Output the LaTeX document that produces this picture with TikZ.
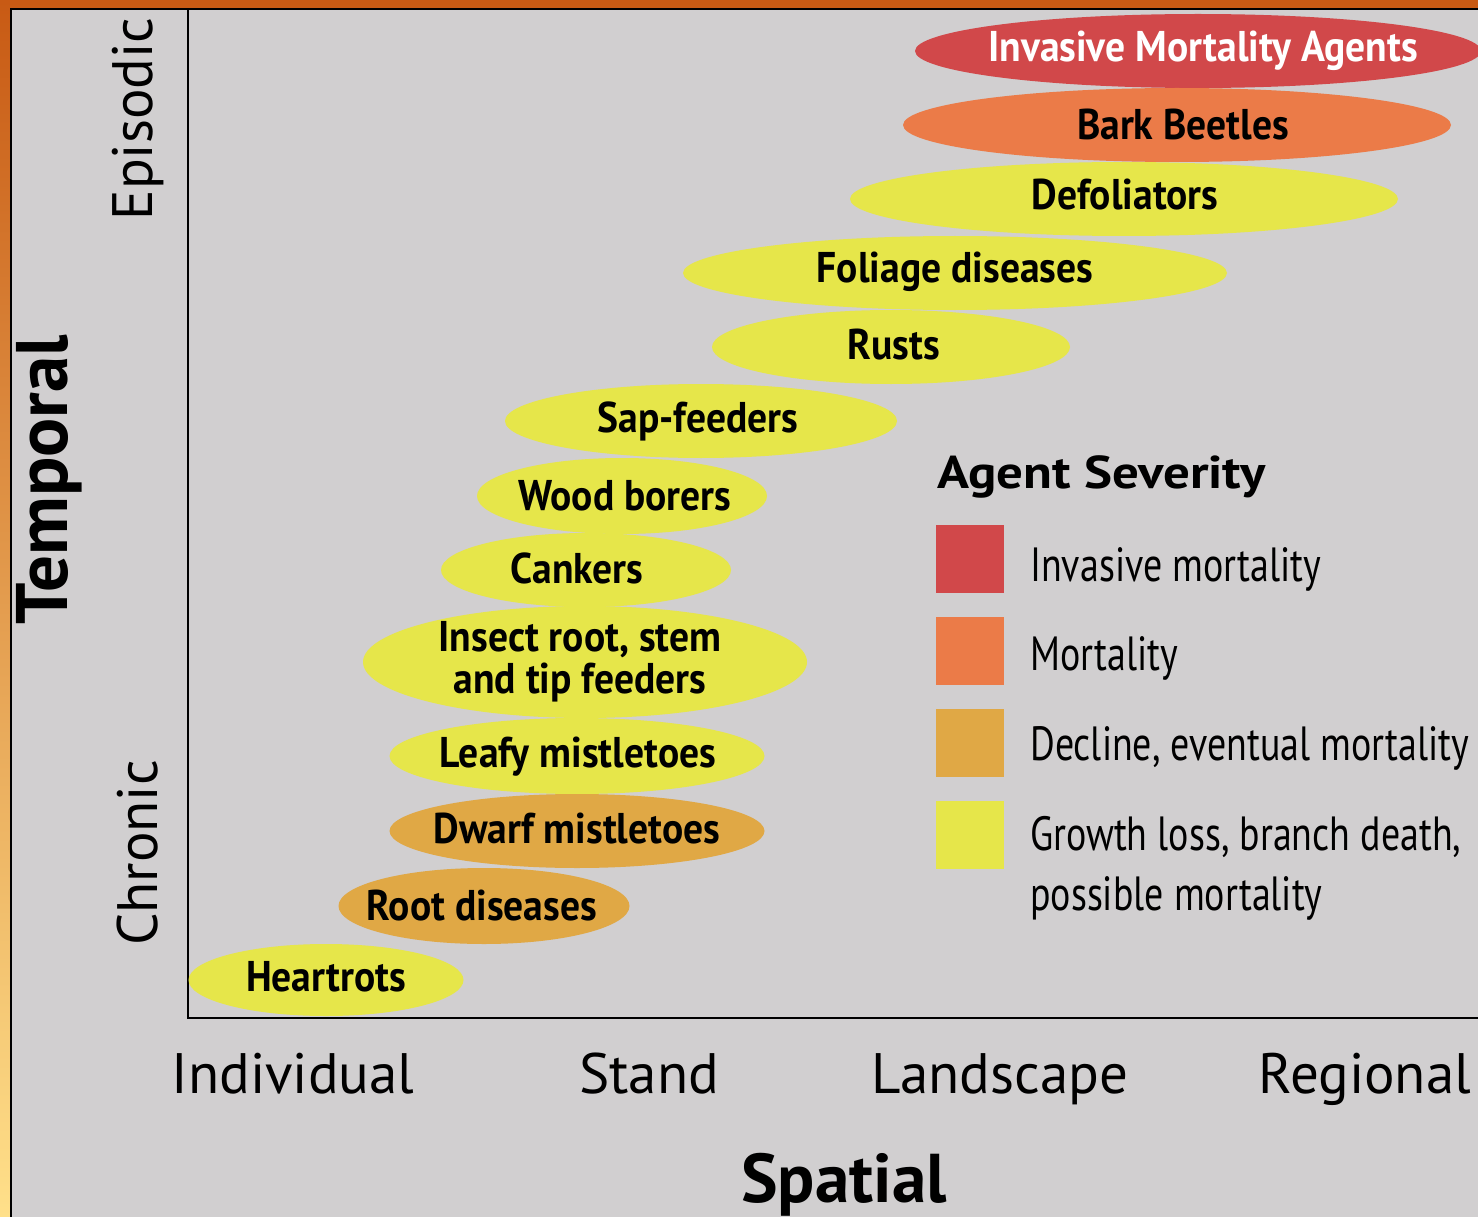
\documentclass[tikz,border=0pt]{standalone}
\usepackage{fontspec}
\setmainfont{PT Sans}
\newfontfamily\cond[FakeStretch=0.92]{PT Sans}
\newfontfamily\condl[FakeStretch=0.79]{PT Sans}
\newfontfamily\wideb[FakeStretch=1.15]{PT Sans}
\usetikzlibrary{shapes.geometric}
\definecolor{panel}{HTML}{D1CFD0}
\definecolor{cred}{HTML}{D1484A}
\definecolor{corg}{HTML}{EB7B48}
\definecolor{cgld}{HTML}{E0A845}
\definecolor{cylw}{HTML}{E6E64A}
\definecolor{edgetop}{HTML}{C85A14}
\definecolor{edgebot}{HTML}{FFE08A}
\tikzset{
  ell/.style={ellipse, inner sep=0pt, draw=none},
  lbl/.style={inner sep=0pt, font=\cond\bfseries\fontsize{43}{44}\selectfont, align=center},
  leg/.style={inner sep=0pt, anchor=base west, font=\condl\fontsize{48}{60}\selectfont, align=left},
  axl/.style={inner sep=0pt, font=\fontsize{57}{60}\selectfont},
  axt/.style={inner sep=0pt, font=\bfseries\fontsize{69}{70}\selectfont},
  sq/.style={minimum width=68pt, minimum height=68pt, inner sep=0pt, draw=none},
}
\begin{document}
\begin{tikzpicture}[x=1pt,y=-1pt]
\useasboundingbox (0,0) rectangle (1478,1217);
\shade[top color=edgetop, bottom color=edgebot] (0,0) rectangle (1478,1217);
\fill[panel] (11,9) rectangle (1478,1217);
\draw[line width=2pt] (11,1217) -- (11,9) -- (1478,9);
\coordinate (ytop) at (188,9);
\coordinate (orig) at (188,1018);
\coordinate (xend) at (1478,1018);
\draw[line width=2pt] (ytop) -- (orig) -- (xend);
% ellipses
\node[ell, fill=cred, minimum width=566pt, minimum height=74pt] (e1) at (1198,51) {};
\node[ell, fill=corg, minimum width=548pt, minimum height=74pt] (e2) at (1177,125) {};
\node[ell, fill=cylw, minimum width=548pt, minimum height=74pt] (e3) at (1124,199) {};
\node[ell, fill=cylw, minimum width=544pt, minimum height=74pt] (e4) at (955,273) {};
\node[ell, fill=cylw, minimum width=358pt, minimum height=74pt] (e5) at (891,347) {};
\node[ell, fill=cylw, minimum width=392pt, minimum height=74pt] (e6) at (701,421) {};
\node[ell, fill=cylw, minimum width=290pt, minimum height=76pt] (e7) at (622,496) {};
\node[ell, fill=cylw, minimum width=290pt, minimum height=74pt] (e8) at (586,570) {};
\node[ell, fill=cylw, minimum width=444pt, minimum height=112pt] (e9) at (585,662) {};
\node[ell, fill=cylw, minimum width=375pt, minimum height=76pt] (e10) at (577,756) {};
\node[ell, fill=cgld, minimum width=375pt, minimum height=74pt] (e11) at (577,831) {};
\node[ell, fill=cgld, minimum width=291pt, minimum height=76pt] (e12) at (484,906) {};
\node[ell, fill=cylw, minimum width=275pt, minimum height=72pt] (e13) at (326,980) {};
% labels
\node[lbl, text=white] (t1) at (1203,51) {Invasive Mortality Agents};
\node[lbl] (t2) at (1183,125) {Bark Beetles};
\node[lbl] (t3) at (1125,195) {Defoliators};
\node[lbl] (t4) at (955,272) {Foliage diseases};
\node[lbl] (t5) at (894,345) {Rusts};
\node[lbl] (t6) at (698,421) {Sap-feeders};
\node[lbl] (t7) at (625,496) {Wood borers};
\node[lbl] (t8) at (577,568) {Cankers};
\node[lbl] (t9) at (580,662) {Insect root, stem\\[-2pt]and tip feeders};
\node[lbl] (t10) at (578,757) {Leafy mistletoes};
\node[lbl] (t11) at (577,829) {Dwarf mistletoes};
\node[lbl] (t12) at (482,906) {Root diseases};
\node[lbl] (t13) at (326,977) {Heartrots};
% legend
\node[inner sep=0pt, anchor=base west, font=\wideb\bfseries\fontsize{46}{50}\selectfont] (lt) at (937,488) {Agent Severity};
\node[sq, fill=cred] (s1) at (970,559) {};
\node[sq, fill=corg] (s2) at (970,651) {};
\node[sq, fill=cgld] (s3) at (970,743) {};
\node[sq, fill=cylw] (s4) at (970,835) {};
\node[leg] (l1) at (1030,581) {Invasive mortality};
\node[leg] (l2) at (1030,670) {Mortality};
\node[leg] (l3) at (1030,760) {Decline, eventual mortality};
\node[leg] (l4) at (1030,850) {Growth loss, branch death,};
\node[leg] (l5) at (1030,910) {possible mortality};
% axes labels
\node[axl, rotate=90] (ep) at (138,119) {Episodic};
\node[axl, rotate=90] (ch) at (138,853) {Chronic};
\node[axt, rotate=90, anchor=base, font=\bfseries\fontsize{73}{74}\selectfont] (tp) at (67,480) {Temporal};
\node[axl, anchor=base] (x1) at (293,1093) {Individual};
\node[axl, anchor=base] (x2) at (649,1093) {Stand};
\node[axl, anchor=base] (x3) at (1000,1093) {Landscape};
\node[axl, anchor=base] (x4) at (1365,1093) {Regional};
\node[axt, anchor=base] (sp) at (844,1202) {Spatial};
\end{tikzpicture}
\end{document}
